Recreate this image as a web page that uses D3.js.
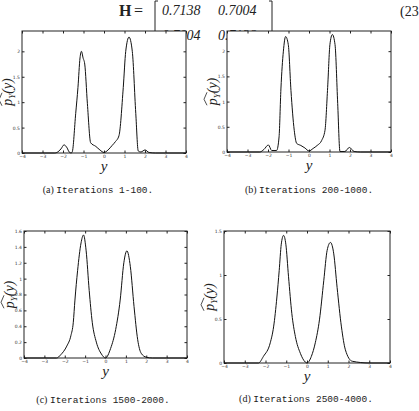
<!DOCTYPE html>
<html>
<head>
<meta charset="utf-8">
<script src="https://cdn.jsdelivr.net/npm/d3@7"></script>
<style>
  body { margin: 0; background: #fff; }
  svg { display: block; }
</style>
</head>
<body>
<div id="chart"></div>
<script>
// density estimates
const xA = [-4, -3, -2.4, -2.3, -2.1, -1.95, -1.8, -1.7, -1.6, -1.55, -1.38, -1.27, -1.17, -1.1, -1.02, -0.94, -0.81, -0.65, -0.4, -0.2, 0, 0.2, 0.4, 0.55, 0.73, 0.94, 1.06, 1.22, 1.38, 1.55, 1.67, 1.8, 2.0, 2.2, 2.5, 3, 4];
const pA = [0, 0, 0, 0.01, 0.08, 0.16, 0.1, 0.02, 0, 0.02, 0.78, 1.29, 1.87, 2.0, 1.87, 1.75, 0.97, 0.2, 0.13, 0.06, 0.01, 0.06, 0.15, 0.22, 0.34, 1.29, 2.0, 2.28, 2.0, 0.78, 0.04, 0.02, 0.06, 0.01, 0, 0, 0];

const xB = [-4, -3, -2.4, -2.2, -1.98, -1.82, -1.58, -1.46, -1.37, -1.25, -1.14, -1.01, -0.88, -0.72, -0.6, -0.4, -0.2, 0, 0.2, 0.4, 0.62, 0.78, 0.91, 1.02, 1.14, 1.27, 1.4, 1.51, 1.75, 1.97, 2.2, 2.5, 3, 4];
const pB = [0, 0, 0, 0.05, 0.14, 0.03, 0.03, 0.3, 1.25, 2.0, 2.29, 2.13, 1.22, 0.43, 0.17, 0.13, 0.08, 0.02, 0.07, 0.13, 0.23, 0.43, 1.28, 2.13, 2.33, 2.13, 0.96, 0.01, 0.01, 0.09, 0.01, 0, 0, 0];

const xC = [-4, -3, -2.4, -2.2, -1.9, -1.7, -1.58, -1.5, -1.37, -1.2, -1.08, -0.95, -0.8, -0.65, -0.45, -0.2, 0, 0.25, 0.5, 0.72, 0.9, 1.05, 1.22, 1.4, 1.58, 1.75, 2.0, 2.3, 3, 4];
const pC = [0, 0, 0, 0.04, 0.15, 0.28, 0.45, 0.73, 1.1, 1.45, 1.55, 1.35, 0.85, 0.45, 0.2, 0.05, 0, 0.12, 0.36, 0.73, 1.2, 1.35, 1.15, 0.65, 0.23, 0.06, 0.01, 0, 0, 0];

const xD = [-4, -3, -2.34, -2.1, -1.77, -1.61, -1.45, -1.34, -1.24, -1.13, -1.02, -0.89, -0.73, -0.56, -0.32, -0.08, 0, 0.21, 0.4, 0.6, 0.81, 0.97, 1.13, 1.29, 1.45, 1.66, 1.85, 2.18, 3, 4];
const pD = [0, 0, 0, 0.075, 0.23, 0.41, 0.75, 1.05, 1.35, 1.45, 1.35, 0.98, 0.56, 0.3, 0.11, 0.01, 0, 0.075, 0.23, 0.49, 0.94, 1.28, 1.37, 1.24, 0.86, 0.41, 0.15, 0.02, 0, 0];

const xTicks = [-4, -3, -2, -1, 0, 1, 2, 3, 4];
const yTicksAB = [0, 0.5, 1, 1.5, 2];
const yTicksC = [0, 0.2, 0.4, 0.6, 0.8, 1, 1.2, 1.4, 1.6];
const yTicksD = [0, 0.5, 1, 1.5];

const tags = ["(a)", "(b)", "(c)", "(d)"];
const captions = ["Iterations 1-100.", "Iterations 200-1000.", "Iterations 1500-2000.", "Iterations 2500-4000."];

const matrixRow1 = ["0.7138", "0.7004"];
const matrixRow2 = ["0.7004", "0.7138"];

const width = 419, height = 411;

const svg = d3.select("#chart").append("svg")
  .attr("width", width)
  .attr("height", height);

// equation above the figure (second row is partly hidden by the plots)
const eq = svg.append("g")
  .attr("font-family", "Liberation Serif, DejaVu Serif, serif")
  .attr("fill", "#222");

eq.append("text").attr("x", 119).attr("y", 16)
  .attr("font-size", 16).attr("font-weight", "bold").text("H");
eq.append("text").attr("x", 134).attr("y", 16)
  .attr("font-size", 16).text("=");
eq.append("path")
  .attr("d", "M158,1 H155 V42 H158")
  .attr("fill", "none").attr("stroke", "#222").attr("stroke-width", 1);
eq.append("path")
  .attr("d", "M269,1 H272 V42 H269")
  .attr("fill", "none").attr("stroke", "#222").attr("stroke-width", 1);
eq.selectAll(".r1").data(matrixRow1).join("text")
  .attr("x", (d, i) => i ? 218 : 162).attr("y", 15)
  .attr("font-size", 14).attr("font-style", "italic").text(d => d);
eq.selectAll(".r2").data(matrixRow2).join("text")
  .attr("x", (d, i) => i ? 218 : 162).attr("y", 40)
  .attr("font-size", 14).attr("font-style", "italic").text(d => d);
eq.append("text").attr("x", 276).attr("y", 38).attr("font-size", 13).text(".");
eq.append("text").attr("x", 400).attr("y", 16).attr("font-size", 14).text("(23");

const panels = [
  { xs: xA, ps: pA, left: 22, right: 186, top: 31, bottom: 153, ymax: 2.4, yt: yTicksAB, capY: 193, capX: 98 },
  { xs: xB, ps: pB, left: 227, right: 391, top: 31, bottom: 152, ymax: 2.4, yt: yTicksAB, capY: 193, capX: 309 },
  { xs: xC, ps: pC, left: 24, right: 187, top: 231, bottom: 358, ymax: 1.6, yt: yTicksC, capY: 403, capX: 103 },
  { xs: xD, ps: pD, left: 224, right: 390, top: 231, bottom: 363, ymax: 1.5, yt: yTicksD, capY: 402, capX: 306 }
];

const fmt = d => d3.format("~g")(d);

panels.forEach((p, i) => {
  const x = d3.scaleLinear().domain([-4, 4]).range([p.left, p.right]);
  const y = d3.scaleLinear().domain([0, p.ymax]).range([p.bottom, p.top]);

  const g = svg.append("g");

  g.append("rect")
    .attr("x", p.left).attr("y", p.top)
    .attr("width", p.right - p.left).attr("height", p.bottom - p.top)
    .attr("fill", "#fff").attr("stroke", "#222").attr("stroke-width", 1);

  const styleAxis = sel => {
    sel.select(".domain").remove();
    sel.selectAll("line").attr("stroke", "#222");
    sel.selectAll("text").attr("font-size", 4.5).attr("font-family", "DejaVu Sans, sans-serif").attr("fill", "#333");
  };

  g.append("g").attr("transform", `translate(0,${p.bottom})`)
    .call(d3.axisBottom(x).tickValues(xTicks).tickSizeInner(-2.5).tickSizeOuter(0).tickPadding(2).tickFormat(fmt))
    .call(styleAxis);
  g.append("g").attr("transform", `translate(0,${p.top})`)
    .call(d3.axisTop(x).tickValues(xTicks).tickSizeInner(-2.5).tickSizeOuter(0).tickFormat(""))
    .call(styleAxis);
  g.append("g").attr("transform", `translate(${p.left},0)`)
    .call(d3.axisLeft(y).tickValues(p.yt).tickSizeInner(-2.5).tickSizeOuter(0).tickPadding(2).tickFormat(fmt))
    .call(styleAxis);
  g.append("g").attr("transform", `translate(${p.right},0)`)
    .call(d3.axisRight(y).tickValues(p.yt).tickSizeInner(-2.5).tickSizeOuter(0).tickFormat(""))
    .call(styleAxis);

  const line = d3.line()
    .x(d => x(d[0]))
    .y(d => y(d[1]))
    .curve(d3.curveMonotoneX);

  g.append("path")
    .datum(p.xs.map((v, k) => [v, p.ps[k]]))
    .attr("d", line)
    .attr("fill", "none")
    .attr("stroke", "#111")
    .attr("stroke-width", 1);

  // x label
  g.append("text")
    .attr("x", x(0)).attr("y", p.bottom + 18)
    .attr("text-anchor", "middle")
    .attr("font-family", "Liberation Serif, serif")
    .attr("font-style", "italic")
    .attr("font-size", 15)
    .attr("fill", "#222")
    .text("y");

  // y label: wide hat over p_Y
  const yl = g.append("g")
    .attr("transform", `translate(${p.left - 10},${(p.top + p.bottom) / 2}) rotate(-90)`);
  const t = yl.append("text")
    .attr("font-family", "Liberation Serif, serif")
    .attr("font-style", "italic")
    .attr("font-size", 14)
    .attr("fill", "#222");
  t.append("tspan").text("p");
  t.append("tspan").attr("font-size", 9).attr("dy", 3).text("Y");
  t.append("tspan").attr("dy", -3).text("(y)");
  const w = t.node().getComputedTextLength();
  t.attr("x", -w / 2);
  const hw = t.node().getSubStringLength(0, 2);
  yl.append("path")
    .attr("d", `M${-w / 2},-10 L${-w / 2 + hw / 2},-13 L${-w / 2 + hw + 1},-10`)
    .attr("fill", "none").attr("stroke", "#222").attr("stroke-width", 0.8);

  // caption
  const cap = g.append("text")
    .attr("x", p.capX).attr("y", p.capY)
    .attr("text-anchor", "middle")
    .attr("font-size", 10)
    .attr("fill", "#222");
  cap.append("tspan").attr("font-family", "Liberation Serif, serif").text(tags[i] + " ");
  cap.append("tspan").attr("font-family", "Liberation Mono, monospace").attr("font-size", 9.5).text(captions[i]);
});
</script>
</body>
</html>
